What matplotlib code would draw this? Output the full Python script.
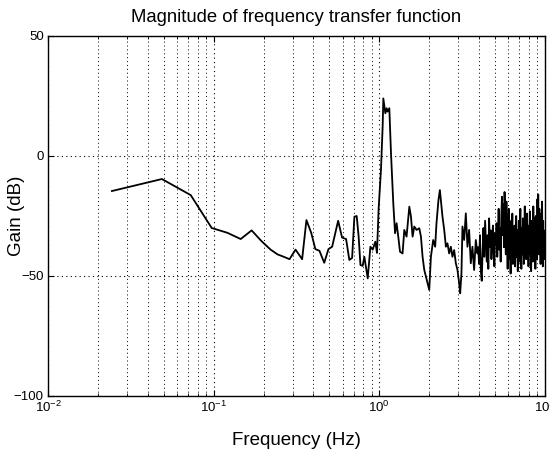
import numpy as np
import matplotlib
matplotlib.use("Agg")
import matplotlib.pyplot as plt
from matplotlib.ticker import LogLocator, NullFormatter

# low / mid frequency part (Hz, dB)
freq_low = [0.0243, 0.0487, 0.0727, 0.0973, 0.121, 0.1455, 0.1695, 0.1946, 0.2205, 0.243,
            0.265, 0.287, 0.312, 0.342, 0.363, 0.388, 0.411, 0.435, 0.465, 0.493,
            0.519, 0.564, 0.596, 0.630, 0.659, 0.685, 0.707, 0.730, 0.750, 0.769,
            0.793, 0.812, 0.851, 0.883, 0.912, 0.946, 0.968, 0.99, 1.01, 1.023,
            1.047, 1.057, 1.087, 1.107, 1.122, 1.149, 1.176, 1.214, 1.244, 1.271,
            1.301, 1.333, 1.381, 1.415, 1.46, 1.517, 1.552, 1.588, 1.625, 1.679,
            1.742, 1.783, 1.824, 1.868, 1.955, 2.001, 2.048, 2.114, 2.173, 2.213,
            2.275, 2.32, 2.362, 2.406, 2.464, 2.522, 2.578, 2.64, 2.702, 2.763,
            2.829, 2.896, 2.963, 3.033, 3.076, 3.131, 3.175, 3.25, 3.327, 3.403,
            3.483, 3.565, 3.648, 3.734, 3.823, 3.91]
gain_low = [-14.6, -9.6, -16.3, -30.0, -32.0, -34.6, -31.0, -35.5, -39.0, -41.0,
            -42.0, -43.0, -39.0, -43.0, -26.7, -32.0, -38.8, -39.5, -44.5, -38.8,
            -37.8, -27.0, -34.0, -34.6, -43.3, -42.5, -25.3, -25.0, -33.6, -45.4,
            -45.8, -42.0, -51.0, -37.8, -39.0, -35.7, -40.4, -22.0, -12.0, -5.8,
            12.2, 24.0, 17.8, 19.9, 18.5, 19.9, 1.1, -19.7, -32.2, -28.0,
            -33.6, -39.9, -40.6, -30.8, -33.6, -21.1, -25.3, -33.6, -29.4, -30.8,
            -30.1, -33.6, -42.0, -47.5, -53.0, -55.8, -42.0, -35.0, -37.8, -28.0,
            -18.3, -14.2, -19.7, -25.3, -30.8, -37.8, -36.4, -40.6, -37.8, -42.0,
            -39.2, -44.7, -47.5, -53.0, -57.2, -48.9, -29.4, -35.0, -23.9, -37.8,
            -30.8, -44.7, -37.8, -47.5, -35.0, -40.6]

# noisy band 3.95 - 10 Hz, 0.05 Hz bins
freq_high = np.arange(3.95, 10.001, 0.05)
gain_high = [-38, -45, -33, -48, -52, -40, -30, -42, -27, -36,
             -44, -33, -47, -26, -38, -31, -43, -35, -29, -40,
             -46, -32, -37, -28, -42, -34, -22, -39, -30, -44,
             -25, -17, -33, -20, -38, -15, -28, -41, -19, -35,
             -47, -30, -22, -43, -36, -49, -27, -38, -24, -45,
             -33, -40, -29, -46, -36, -25, -42, -31, -48, -37,
             -27, -44, -34, -22, -39, -47, -30, -41, -26, -36,
             -45, -33, -21, -38, -28, -43, -35, -24, -40, -31,
             -46, -29, -37, -23, -41, -33, -48, -27, -39, -30,
             -44, -21, -36, -26, -42, -32, -47, -25, -38, -29,
             -43, -18, -34, -16, -30, -41, -22, -37, -28, -45,
             -33, -24, -40, -19, -36, -46, -27, -38, -31, -43,
             -35, -40]

freq = np.concatenate([freq_low, freq_high])
gain = np.concatenate([gain_low, gain_high])

plt.rcParams["font.family"] = ["Liberation Sans", "DejaVu Sans"]

fig = plt.figure(figsize=(5.5, 4.58), dpi=100)
ax = fig.add_axes([0.0873, 0.1354, 0.9036, 0.786])

ax.semilogx(freq, gain, color="black", linewidth=1.3)

ax.set_xlim(1e-2, 1e1)
ax.set_ylim(-100, 50)
ax.set_yticks([-100, -50, 0, 50])
ax.xaxis.set_major_locator(LogLocator(base=10, numticks=10))
ax.xaxis.set_minor_locator(LogLocator(base=10, subs=np.arange(2, 10), numticks=10))
ax.xaxis.set_minor_formatter(NullFormatter())

ax.grid(True, which="major", linestyle=(0, (1, 3)), color="black", linewidth=0.8)
ax.grid(True, which="minor", axis="x", linestyle=(0, (1, 3)), color="black", linewidth=0.7)

ax.tick_params(which="both", direction="in", top=True, right=True, labelsize=9.5, pad=3)
ax.tick_params(which="major", length=4)
ax.tick_params(which="minor", length=2)
for s in ax.spines.values():
    s.set_linewidth(1.0)

ax.set_title("Magnitude of frequency transfer function", fontsize=13.3, pad=10)
ax.set_xlabel("Frequency (Hz)", fontsize=13.5, labelpad=12)
ax.set_ylabel("Gain (dB)", fontsize=13.5)
ax.yaxis.set_label_coords(-0.047, 0.5)

fig.savefig("out.png", dpi=100)
